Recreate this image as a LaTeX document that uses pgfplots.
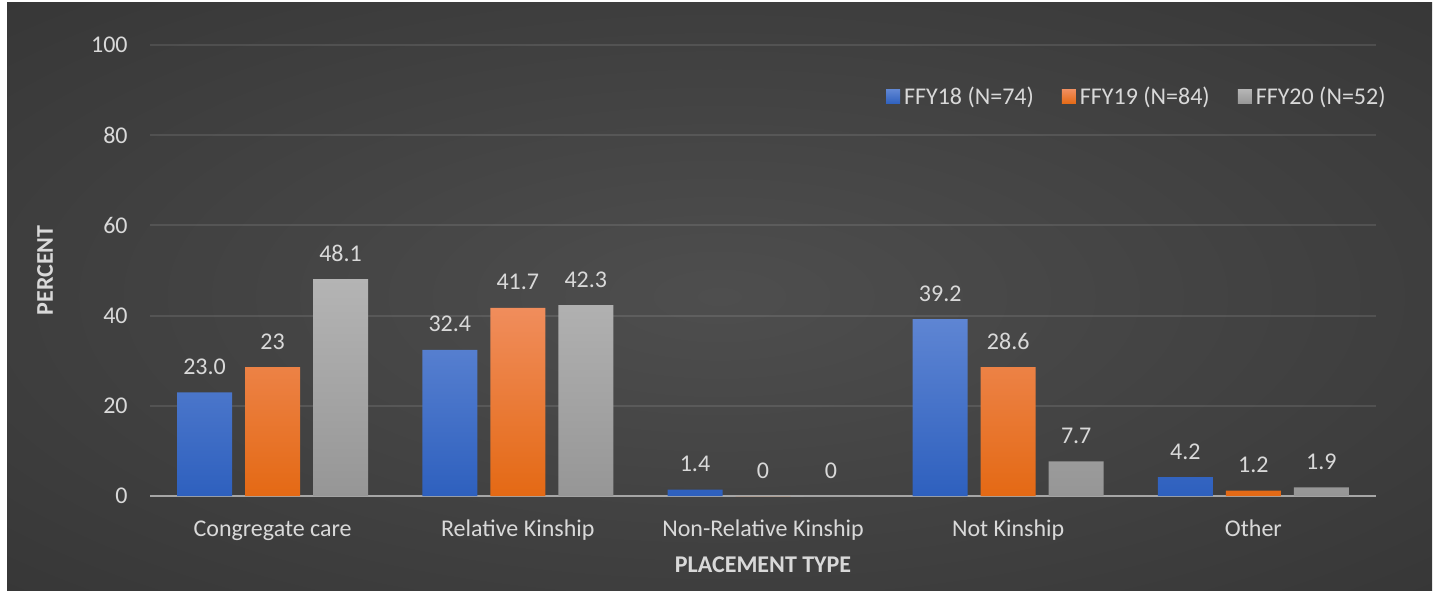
\documentclass[border=0pt]{standalone}
\usepackage{pgfplots}
\pgfplotsset{compat=1.18}
\usepackage{fontspec}
\setmainfont{Carlito}

\definecolor{bgin}{HTML}{4E4E4E}
\definecolor{bgout}{HTML}{262626}
\definecolor{txt}{HTML}{D9D9D9}
\definecolor{blueT}{HTML}{5E85D3}
\definecolor{blueB}{HTML}{2E60BE}
\definecolor{oranT}{HTML}{F08D5C}
\definecolor{oranB}{HTML}{E46914}
\definecolor{grayT}{HTML}{B4B4B4}
\definecolor{grayB}{HTML}{969696}
\definecolor{baseline}{HTML}{A6A6A6}
\pgfdeclareradialshading{chartbg}{\pgfpoint{0bp}{0bp}}{color(0bp)=(bgin); color(62bp)=(bgout); color(100bp)=(bgout)}

\pgfplotsset{
  lgd/.style={legend image code/.code={\path[##1] (0pt,-3.5pt) rectangle (7pt,3.5pt);}},
}

\begin{document}
\begin{tikzpicture}[x=1pt,y=1pt]
\fill[white] (0,0) rectangle (719.5,295);
\shade[shading=chartbg] (3.5,0) rectangle (716,293.5);

\begin{axis}[
  at={(75pt,47pt)}, anchor=south west,
  width=613pt, height=225.5pt, scale only axis,
  ybar,
  bar width=0.2243,
  xmin=-0.5, xmax=4.5,
  ymin=0, ymax=100,
  ytick={0,20,40,60,80,100},
  xtick={0,1,2,3,4},
  xticklabels={Congregate care, Relative Kinship, Non-Relative Kinship, Not Kinship, Other},
  /pgf/number format/assume math mode=true,
  font=\fontsize{12}{14.4}\selectfont,
  major tick length=0pt,
  axis x line*=bottom, axis y line*=left,
  x axis line style={draw=baseline, line width=1pt, -},
  y axis line style={draw=none},
  ymajorgrids,
  major grid style={draw=white, opacity=0.1, line width=1pt},
  tick label style={text=txt},
  xticklabel style={anchor=base, inner sep=0pt, yshift=-20pt},
  yticklabel style={anchor=east, inner sep=0pt, xshift=-11pt},
  xlabel={\bfseries PLACEMENT TYPE},
  ylabel={\bfseries PERCENT},
  label style={text=txt},
  xlabel style={at={(axis description cs:0.5,-0.153)}, anchor=center},
  ylabel style={at={(axis description cs:-0.0856,0.5)}, anchor=center},
  point meta=explicit symbolic,
  nodes near coords,
  nodes near coords style={text=txt, anchor=base, inner sep=0pt, yshift=9pt},
  legend columns=3,
  legend style={at={(axis description cs:1.0114,0.8847)}, anchor=east,
    draw=none, fill=none, inner sep=0pt, text=txt,
    font=\fontsize{12}{14.4}\selectfont,
    /tikz/every even column/.append style={column sep=12pt},
    cells={anchor=west}},
]
\addplot[draw=none, top color=blueT, bottom color=blueB, bar shift=-0.2773, lgd]
  coordinates {(0,23.0) [23.0] (1,32.4) [32.4] (2,1.4) [1.4] (3,39.2) [39.2] (4,4.2) [4.2]};
\addplot[draw=none, top color=oranT, bottom color=oranB, bar shift=0, lgd]
  coordinates {(0,28.6) [23] (1,41.7) [41.7] (2,0) [0] (3,28.6) [28.6] (4,1.2) [1.2]};
\addplot[draw=none, top color=grayT, bottom color=grayB, bar shift=0.2773, lgd]
  coordinates {(0,48.1) [48.1] (1,42.3) [42.3] (2,0) [0] (3,7.7) [7.7] (4,1.9) [1.9]};
\legend{FFY18 (N=74), FFY19 (N=84), FFY20 (N=52)}
\end{axis}
\end{tikzpicture}
\end{document}
